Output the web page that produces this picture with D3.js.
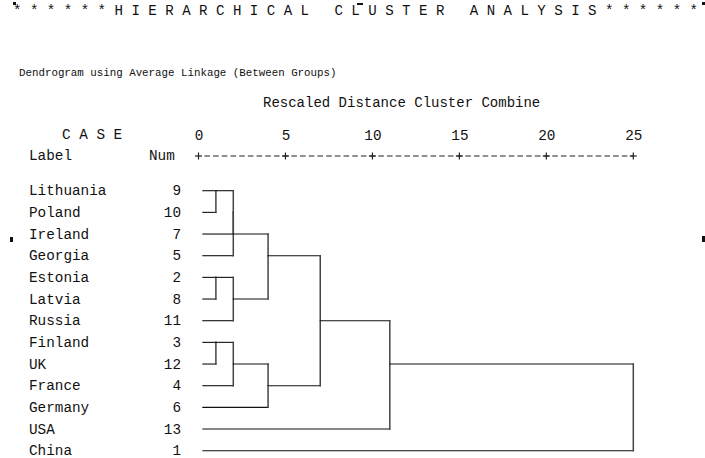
<!DOCTYPE html>
<html>
<head>
<meta charset="utf-8">
<script src="https://cdn.jsdelivr.net/npm/d3@7"></script>
<style>
	body { margin: 0; background: #fff; }
	text { font-family: "Courier New", "Liberation Mono", monospace; font-size: 14.33px; fill: #111; }
</style>
</head>
<body>
<div id="graph"></div>
<script>
// Chart data
const labels = ["Lithuania", "Poland", "Ireland", "Georgia", "Estonia", "Latvia", "Russia",
	"Finland", "UK", "France", "Germany", "USA", "China"];
const caseNums = [9, 10, 7, 5, 2, 8, 11, 3, 12, 4, 6, 13, 1];
const axisTicks = [0, 5, 10, 15, 20, 25];
// merges: [child a, child b, rescaled distance]; 0-12 are rows, 13+ earlier merges
const merges = [
	[0, 1, 1],
	[4, 5, 1],
	[7, 8, 1],
	[13, 2, 2],
	[16, 3, 2],
	[14, 6, 2],
	[15, 9, 2],
	[17, 18, 4],
	[19, 10, 4],
	[20, 21, 7],
	[22, 11, 11],
	[23, 12, 25]
];

const width = 705, height = 458;
const leafStart = 0.25;

let svg = d3.select("#graph")
	.append("svg")
	.attr("width", width)
	.attr("height", height);

let x = d3.scaleLinear().domain([0, 25]).range([198.5, 633.3]);
let y = d3.scaleLinear().domain([0, labels.length - 1]).range([190.7, 450.7]);

// Headings
svg.append("text").attr("x", 13).attr("y", 15)
	.style("white-space", "pre")
	.style("font-size", "14.1px")
	.text("* * * * * * H I E R A R C H I C A L   C L U S T E R   A N A L Y S I S * * * * * *");

svg.append("text").attr("x", 19).attr("y", 76)
	.style("font-size", "10.8px")
	.text("Dendrogram using Average Linkage (Between Groups)");

svg.append("text").attr("x", 263).attr("y", 107)
	.style("font-size", "14px")
	.text("Rescaled Distance Cluster Combine");

svg.append("text").attr("x", 62).attr("y", 139)
	.style("white-space", "pre")
	.text("C A S E");

svg.append("text").attr("x", 29).attr("y", 160).text("Label");
svg.append("text").attr("x", 149).attr("y", 160).text("Num");

// Axis numbers
let axis = svg.append("g")
	.attr("transform", "translate(0,140)")
	.call(d3.axisTop(x).tickValues(axisTicks).tickSize(0).tickPadding(0));
axis.select(".domain").remove();
axis.selectAll("text")
	.attr("dy", 0)
	.attr("y", 0);
axis.attr("font-family", null).attr("font-size", null);

// Axis line: +---------+ ...
let axisY = 156;
let cell = (x(5) - x(0)) / 10;
svg.append("line")
	.attr("x1", x(0) + cell - 2.8)
	.attr("x2", x(25))
	.attr("y1", axisY).attr("y2", axisY)
	.attr("stroke", "#222")
	.attr("stroke-width", 1)
	.attr("stroke-dasharray", "5.6," + (cell - 5.6));

let plus = svg.append("g").selectAll("g").data(axisTicks).enter().append("g")
	.attr("transform", function(d) {return "translate(" + x(d) + "," + axisY + ")"});
plus.append("line").attr("x1", -3.5).attr("x2", 3.5).attr("y1", 0).attr("y2", 0)
	.attr("stroke", "#222").attr("stroke-width", 1.2);
plus.append("line").attr("x1", 0).attr("x2", 0).attr("y1", -3.5).attr("y2", 3.5)
	.attr("stroke", "#222").attr("stroke-width", 1.2);

// Case labels and numbers
svg.append("g").selectAll("text").data(labels).enter().append("text")
	.attr("x", 29)
	.attr("y", function(d, i) {return y(i) + 4.5})
	.text(function(d) {return d});

svg.append("g").selectAll("text").data(caseNums).enter().append("text")
	.attr("x", 181)
	.attr("y", function(d, i) {return y(i) + 4.5})
	.style("text-anchor", "end")
	.text(function(d) {return d});

// Dendrogram layout (SPSS style: joined branch sits on the middle row)
let anchorRow = labels.map(function(d, i) {return i});
let nodeDist = labels.map(function() {return leafStart});
let segs = [];

merges.forEach(function(m) {
	let a = m[0], b = m[1], dist = m[2];
	[a, b].forEach(function(c) {
		segs.push({x1: x(nodeDist[c]), x2: x(dist), y1: y(anchorRow[c]), y2: y(anchorRow[c]), h: true});
	});
	let top = Math.min(anchorRow[a], anchorRow[b]);
	let bot = Math.max(anchorRow[a], anchorRow[b]);
	segs.push({x1: x(dist), x2: x(dist), y1: y(top), y2: y(bot), h: false});
	anchorRow.push(Math.floor((top + bot) / 2));
	nodeDist.push(dist);
});

svg.append("g").selectAll("line").data(segs).enter().append("line")
	.attr("x1", function(d) {return d.x1})
	.attr("x2", function(d) {return d.x2})
	.attr("y1", function(d) {return d.y1})
	.attr("y2", function(d) {return d.y2})
	.attr("stroke", function(d) {return d.h ? "#111" : "#444"})
	.attr("stroke-width", function(d) {return d.h ? 1.1 : 1.5})
	.attr("stroke-linecap", "square");

// Small scan marks in the original
let marks = [[13, 2, 3, 3], [357, 3, 6, 2], [702, 2, 3, 3], [10, 237, 3, 5], [702, 236, 3, 6]];
svg.append("g").selectAll("rect").data(marks).enter().append("rect")
	.attr("x", function(d) {return d[0]})
	.attr("y", function(d) {return d[1]})
	.attr("width", function(d) {return d[2]})
	.attr("height", function(d) {return d[3]})
	.attr("fill", "#111");
</script>
</body>
</html>
